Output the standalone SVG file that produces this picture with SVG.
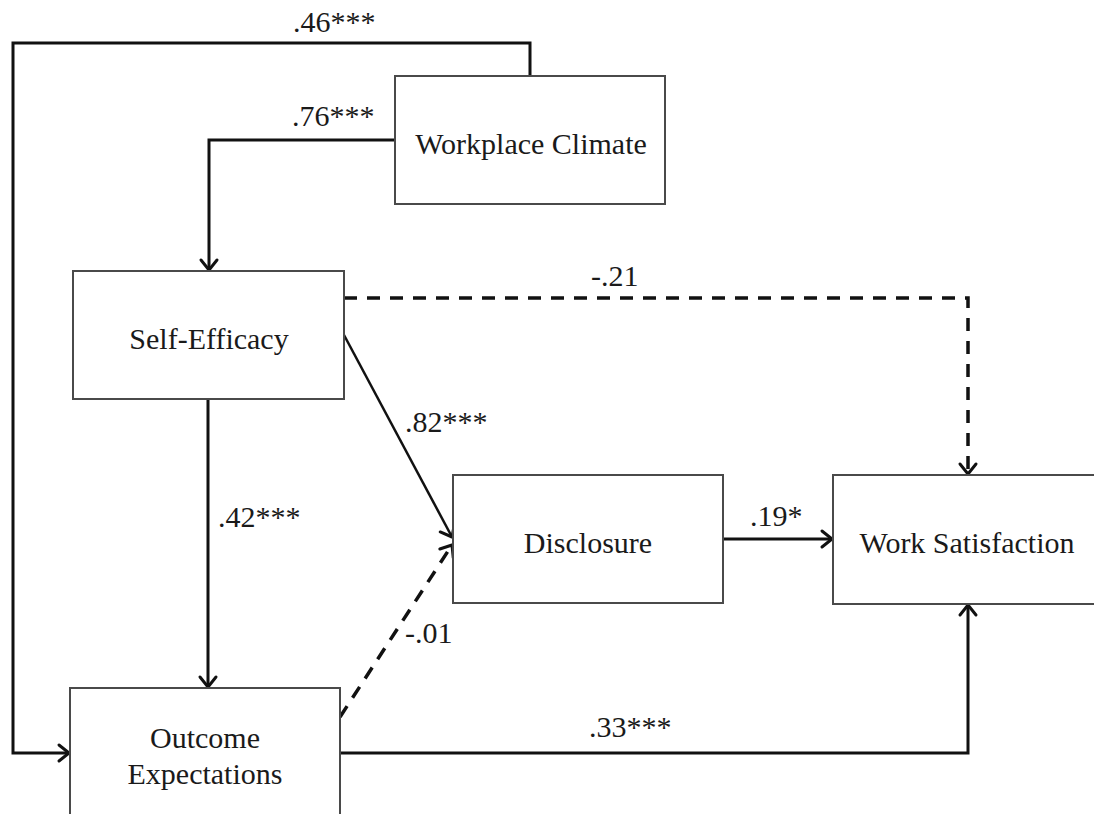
<svg xmlns="http://www.w3.org/2000/svg" width="1094" height="814" viewBox="0 0 1094 814">
<defs>
<style>
.box{fill:#fff;stroke:#4a4a4a;stroke-width:2}
.t{font-family:"Liberation Serif","Times New Roman",serif;font-size:30px;fill:#1a1a1a;text-anchor:middle}
.lbl{font-family:"Liberation Serif","Times New Roman",serif;font-size:30px;fill:#1a1a1a}
.c{fill:none;stroke:#111;stroke-width:3;stroke-linejoin:miter}
.d{fill:none;stroke:#111;stroke-width:3.5;stroke-dasharray:13 10}
</style>
<marker id="ah" markerUnits="userSpaceOnUse" markerWidth="24" markerHeight="24" viewBox="-14 -12 16 24" refX="0" refY="0" orient="auto">
<path d="M-10,-8 L0,0 L-10,8" fill="none" stroke="#111" stroke-width="3" stroke-linecap="round" stroke-linejoin="round"/>
</marker>
</defs>
<rect width="1094" height="814" fill="#fff"/>
<g id="connectors">
<path class="c" d="M530,76 V43 H13 V753 H69" marker-end="url(#ah)"/>
<path class="c" d="M395,140 H209 V270" marker-end="url(#ah)"/>
<path class="d" d="M344,298 H968 V474" marker-end="url(#ah)"/>
<path class="c" style="stroke-width:2.5" d="M344,335 L452,537" marker-end="url(#ah)"/>
<path class="c" d="M208,399 V687" marker-end="url(#ah)"/>
<path class="d" d="M340,717 L452,545" marker-end="url(#ah)"/>
<path class="c" d="M723,539 H832" marker-end="url(#ah)"/>
<path class="c" d="M340,753 H968 V605" marker-end="url(#ah)"/>
</g>
<g id="labels">
<text class="lbl" x="293" y="32">.46***</text>
<text class="lbl" x="292" y="126">.76***</text>
<text class="lbl" x="591" y="286">-.21</text>
<text class="lbl" x="405" y="432">.82***</text>
<text class="lbl" x="218" y="527">.42***</text>
<text class="lbl" x="750" y="526">.19*</text>
<text class="lbl" x="405" y="643">-.01</text>
<text class="lbl" x="589" y="737">.33***</text>
</g>
<g id="workplace-climate">
<rect class="box" x="395" y="76" width="270" height="128"/>
<text class="t" x="531" y="154">Workplace Climate</text>
</g>
<g id="self-efficacy">
<rect class="box" x="73" y="271" width="271" height="128"/>
<text class="t" x="209" y="349">Self-Efficacy</text>
</g>
<g id="disclosure">
<rect class="box" x="453" y="475" width="270" height="128"/>
<text class="t" x="588" y="553">Disclosure</text>
</g>
<g id="work-satisfaction">
<rect class="box" x="833" y="475" width="280" height="129"/>
<text class="t" x="967" y="553">Work Satisfaction</text>
</g>
<g id="outcome-expectations">
<rect class="box" x="70" y="688" width="270" height="150"/>
<text class="t" x="205" y="748">Outcome</text>
<text class="t" x="205" y="784">Expectations</text>
</g>
</svg>
